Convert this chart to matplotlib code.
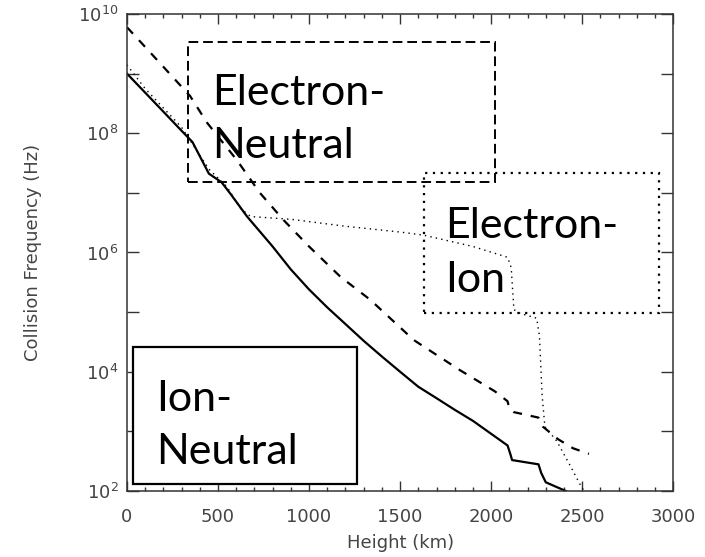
import math
import matplotlib
matplotlib.use("Agg")
import matplotlib.pyplot as plt
from matplotlib.patches import Rectangle
from matplotlib.ticker import FixedLocator, FuncFormatter, MultipleLocator, NullLocator

plt.rcParams['font.family'] = ['DejaVu Sans']
plt.rcParams['mathtext.fontset'] = 'dejavusans'

# collision frequencies (Hz) vs height (km)
height_in = [0, 100, 200, 300, 360, 450, 520, 570, 660, 800, 900, 1000, 1100, 1200,
             1300, 1400, 1500, 1600, 1700, 1800, 1900, 2000, 2090, 2105, 2115, 2260,
             2275, 2300, 2350, 2410]
nu_in = [1.0e9, 4.8e8, 2.3e8, 1.1e8, 7.1e7, 2.1e7, 1.5e7, 9.5e6, 4.0e6, 1.26e6, 5.2e5,
         2.4e5, 1.2e5, 6.3e4, 3.3e4, 1.8e4, 1.0e4, 5.6e3, 3.6e3, 2.3e3, 1.5e3, 9.1e2,
         5.8e2, 4.2e2, 3.3e2, 2.8e2, 2.0e2, 1.4e2, 1.2e2, 1.0e2]

height_en = [0, 100, 200, 347, 440, 605, 730, 860, 1000, 1173, 1337, 1575, 1827, 2020,
             2090, 2100, 2125, 2260, 2284, 2367, 2450, 2537]
nu_en = [6.0e9, 2.8e9, 1.3e9, 4.2e8, 1.5e8, 3.5e7, 1.0e7, 3.5e6, 1.26e6, 3.9e5, 1.6e5,
         3.4e4, 1.07e4, 4.7e3, 3.2e3, 2.4e3, 2.1e3, 1.7e3, 1.2e3, 7.4e2, 5.2e2, 4.2e2]

height_ei = [0, 100, 300, 450, 550, 620, 680, 900, 1200, 1500, 1630, 1900, 2090, 2110,
             2125, 2160, 2250, 2265, 2280, 2295, 2360, 2430, 2490, 2510]
nu_ei = [1.4e9, 5.6e8, 1.26e8, 2.5e7, 1.26e7, 5.6e6, 4.0e6, 3.6e6, 2.75e6, 2.2e6, 1.95e6,
         1.26e6, 8.3e5, 5.6e5, 1.1e5, 9.5e4, 7.9e4, 4.0e4, 4.0e3, 1.2e3, 6.9e2, 2.8e2,
         1.26e2, 1.0e2]

decades = [1e2, 1e3, 1e4, 1e5, 1e6, 1e7, 1e8, 1e9, 1e10]

fig = plt.figure(figsize=(7.05, 5.57), dpi=100)
ax = fig.add_axes([0.180, 0.1185, 0.775, 0.8565])

ax.plot(height_in, nu_in, color='black', lw=1.6, ls='-')
ax.plot(height_en, nu_en, color='black', lw=1.6, ls=(0, (4, 4)))
ax.plot(height_ei, nu_ei, color='black', lw=1.0, ls=(0, (1, 3)))

ax.set_yscale('log')
ax.set_xlim(0, 3000)
ax.set_ylim(1e2, 1e10)

ax.xaxis.set_major_locator(MultipleLocator(500))
ax.xaxis.set_minor_locator(MultipleLocator(100))
ax.yaxis.set_major_locator(FixedLocator(decades))
ax.yaxis.set_minor_locator(NullLocator())


def ylab(v, pos):
    # label only the even powers of ten
    e = int(round(math.log10(v)))
    return r'$10^{%d}$' % e if e % 2 == 0 else ''


ax.yaxis.set_major_formatter(FuncFormatter(ylab))

ax.tick_params(which='both', direction='in', top=True, right=True, width=1.0,
               colors='#333333', labelsize=13, labelcolor='#444444')
ax.xaxis.set_tick_params(which='major', length=7, pad=12)
ax.xaxis.set_tick_params(which='minor', length=3)
ax.yaxis.set_tick_params(which='major', length=8.5, pad=6)
for s in ax.spines.values():
    s.set_linewidth(1.1)
    s.set_color('#333333')

ax.set_xlabel('Height (km)', fontsize=13, color='#444444', labelpad=6)
ax.set_ylabel('Collision Frequency (Hz)', fontsize=13, color='#444444', labelpad=26)

# labelled boxes; text y is the baseline of the last line
box_font = dict(family=['Lato', 'DejaVu Sans'], fontsize=31, color='black', linespacing=1.5)
ax.add_patch(Rectangle((336, 10**7.18), 2020 - 336, 10**9.53 - 10**7.18, fill=False,
                       ec='black', lw=1.4, ls=(0, (5, 2.5)), zorder=3))
ax.text(468, 10**7.58, 'Electron-\nNeutral', ha='left', va='baseline', **box_font)

ax.add_patch(Rectangle((1629, 10**4.98), 2923 - 1629, 10**7.33 - 10**4.98, fill=False,
                       ec='black', lw=1.6, ls=(0, (1, 2.5)), zorder=3))
ax.text(1750, 10**5.34, 'Electron-\nIon', ha='left', va='baseline', **box_font)

ax.add_patch(Rectangle((33, 10**2.11), 1261 - 33, 10**4.41 - 10**2.11, fill=True,
                       fc='white', ec='black', lw=1.6, zorder=3))
ax.text(160, 10**2.45, 'Ion-\nNeutral', ha='left', va='baseline', zorder=4, **box_font)

fig.savefig('out.png', dpi=100)
